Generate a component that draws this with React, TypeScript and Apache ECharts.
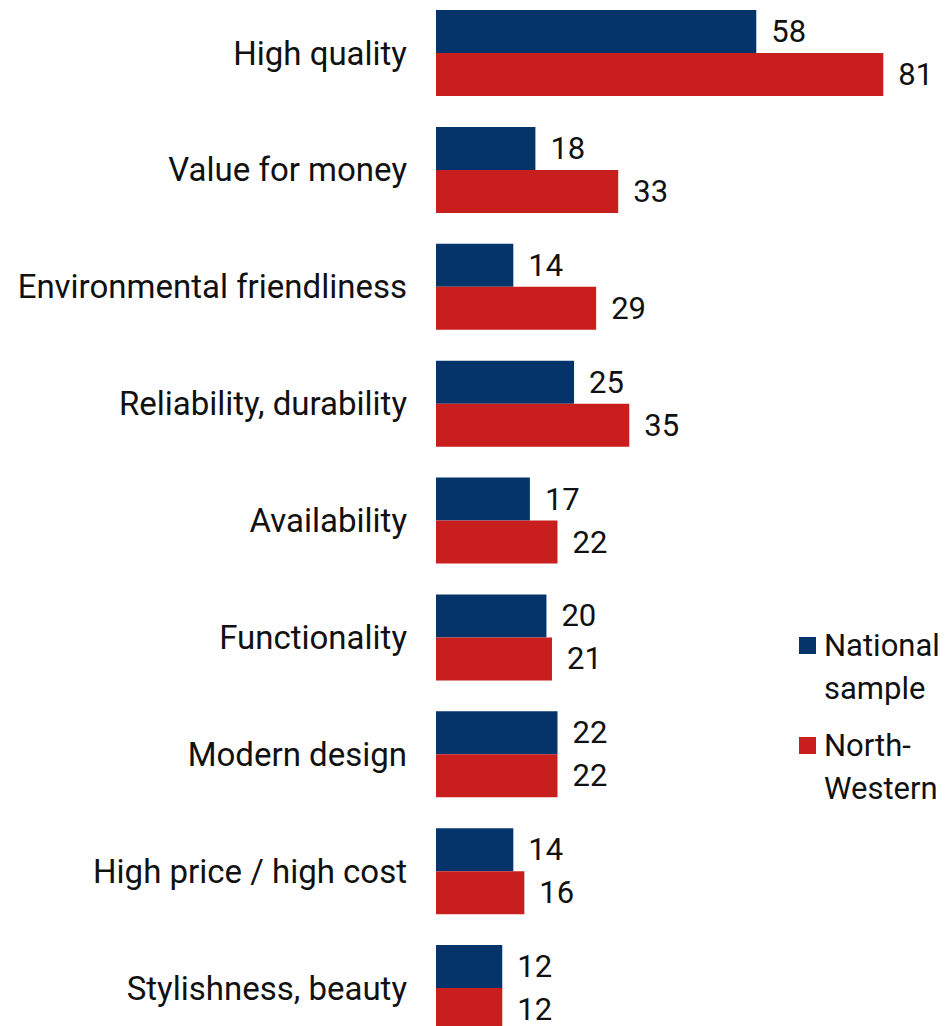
import React, { useEffect, useRef } from "react";
import * as echarts from "echarts";

const categories = [
  "High quality",
  "Value for money",
  "Environmental friendliness",
  "Reliability, durability",
  "Availability",
  "Functionality",
  "Modern design",
  "High price / high cost",
  "Stylishness, beauty",
];
const nationalSample = [58, 18, 14, 25, 17, 20, 22, 14, 12];
const northWestern = [81, 33, 29, 35, 22, 21, 22, 16, 12];
const seriesNames = ["National sample", "North-Western"];
const legendLabels: Record<string, string> = {
  "National sample": "\nNational\nsample",
  "North-Western": "\nNorth-\nWestern",
};

const FONT = "Roboto, 'Liberation Sans', sans-serif";
const BLUE = "#04346A";
const RED = "#C81E1E";
const OFFSET = 20;

export default function App() {
  const ref = useRef<HTMLDivElement>(null);
  useEffect(() => {
    if (!ref.current) return;
    const chart = echarts.init(ref.current, undefined, { renderer: "svg" });
    const legendText = {
      fontFamily: FONT,
      fontSize: 31,
      color: "#111",
      lineHeight: 43,
      padding: [0, 0, 0, 3],
    };
    const valueLabel = {
      show: true,
      position: "right" as const,
      distance: 15,
      fontFamily: FONT,
      fontSize: 31,
      color: "#111",
    };
    const legendBase = {
      left: 799,
      padding: 0,
      itemWidth: 17,
      itemHeight: 17,
      icon: "rect",
      selectedMode: false,
      formatter: (n: string) => legendLabels[n],
      textStyle: legendText,
    };
    chart.setOption({
      animation: false,
      backgroundColor: "#fff",
      textStyle: { fontFamily: FONT },
      grid: { left: 436, top: OFFSET - 5.4, width: 497, height: 1051.9, containLabel: false },
      xAxis: { type: "value", min: 0, max: 90, show: false },
      yAxis: {
        type: "category",
        data: categories,
        inverse: true,
        axisLine: { show: false },
        axisTick: { show: false },
        axisLabel: {
          margin: 29,
          fontFamily: FONT,
          fontSize: 33,
          color: "#111",
          padding: [0, 0, 7, 0],
        },
      },
      legend: [
        { ...legendBase, data: [seriesNames[0]], top: OFFSET + 581 },
        { ...legendBase, data: [seriesNames[1]], top: OFFSET + 681 },
      ],
      series: [
        {
          name: seriesNames[0],
          type: "bar",
          data: nationalSample,
          barWidth: 43,
          barGap: "0%",
          itemStyle: { color: BLUE },
          label: valueLabel,
        },
        {
          name: seriesNames[1],
          type: "bar",
          data: northWestern,
          barWidth: 43,
          barGap: "0%",
          itemStyle: { color: RED },
          label: valueLabel,
        },
      ],
    });
    return () => chart.dispose();
  }, []);
  return (
    <div
      ref={ref}
      style={{ position: "fixed", left: 0, top: -OFFSET, width: 948, height: 1026 + 60 }}
    />
  );
}
